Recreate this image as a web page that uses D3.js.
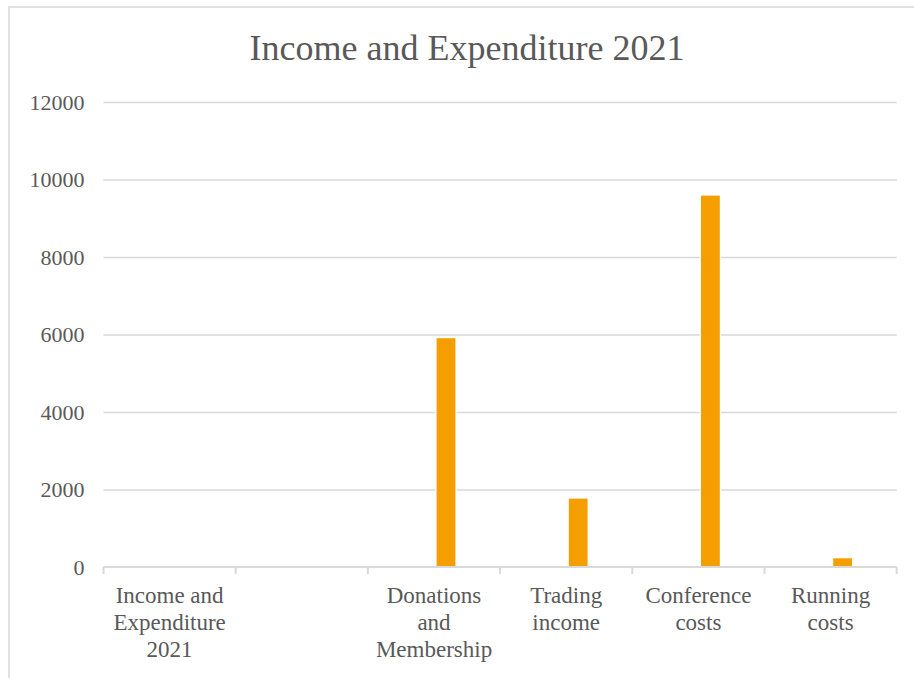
<!DOCTYPE html>
<html>
<head>
<meta charset="utf-8">
<script src="https://cdn.jsdelivr.net/npm/d3@7"></script>
<style>
  html, body { margin: 0; padding: 0; background: #fff; }
  svg { display: block; }
  text { font-family: "Liberation Serif", "Times New Roman", serif; fill: #595959; }
</style>
</head>
<body>
<svg id="chart" width="914" height="678"></svg>
<script>
const title = "Income and Expenditure 2021";
const categories = ["Income and Expenditure 2021", "", "Donations and Membership", "Trading income", "Conference costs", "Running costs"];
const seriesNames = ["Series1", "Series2"];
const series1 = [null, null, null, null, null, null];
const series2 = [null, null, 5920, 1780, 9600, 240];
const yTicks = [0, 2000, 4000, 6000, 8000, 10000, 12000];

const svg = d3.select("#chart");
const W = 914, H = 678;
const plot = { left: 103.5, right: 896.7, top: 102, bottom: 567 };

// chart border
svg.append("rect").attr("x", 9).attr("y", 7).attr("width", 1000).attr("height", 1000)
  .attr("fill", "#fff").attr("stroke", "#d9d9d9").attr("stroke-width", 1.5);

svg.append("text").attr("x", (248 + 686) / 2).attr("y", 60)
  .attr("text-anchor", "middle").style("font-size", "36px").text(title);

const x = d3.scaleBand().domain(categories.map((c, i) => i)).range([plot.left, plot.right]).padding(0);
const xs = d3.scaleBand().domain(seriesNames)
  .range([x.bandwidth() / 2 - 22, x.bandwidth() / 2 + 22]).paddingInner(4 / 24).paddingOuter(0);
const y = d3.scaleLinear().domain([0, 12000]).range([plot.bottom, plot.top]);

// gridlines + y labels
const yAxis = d3.axisLeft(y).tickValues(yTicks).tickSize(-(plot.right - plot.left)).tickPadding(19)
  .tickFormat(d3.format("d"));
const gy = svg.append("g").attr("transform", `translate(${plot.left},0)`).call(yAxis);
gy.select(".domain").remove();
gy.selectAll(".tick line").attr("stroke", "#d9d9d9").attr("stroke-width", 1.5)
  .filter(d => d === 0).remove();
gy.selectAll(".tick text").style("font-size", "22px").attr("fill", "#595959");

// bars
const data = [];
categories.forEach((c, i) => {
  [series1, series2].forEach((s, k) => {
    if (s[i] != null) data.push({ i, s: seriesNames[k], v: s[i] });
  });
});
svg.append("g").selectAll("rect").data(data).join("rect")
  .attr("x", d => x(d.i) + xs(d.s))
  .attr("width", xs.bandwidth())
  .attr("y", d => y(d.v))
  .attr("height", d => y(0) - y(d.v))
  .attr("fill", "#F59E00")
  .attr("stroke", "#fff").attr("stroke-width", 1.2);

// x axis
const xAxis = d3.axisBottom(x).tickSize(0).tickFormat(i => categories[i]);
const gx = svg.append("g").attr("transform", `translate(0,${plot.bottom})`).call(xAxis);
gx.select(".domain").attr("stroke", "#d9d9d9").attr("stroke-width", 2).attr("d", `M${plot.left},0H${plot.right}`);
// category boundary tick marks
const bounds = categories.map((c, i) => x(i)).concat([x(categories.length - 1) + x.bandwidth()]);
gx.selectAll(".bound").data(bounds).join("line").attr("class", "bound")
  .attr("x1", d => d).attr("x2", d => d).attr("y1", 0).attr("y2", 7)
  .attr("stroke", "#d9d9d9").attr("stroke-width", 2);

gx.selectAll(".tick text").each(function (i) {
  const t = d3.select(this);
  const words = categories[i].split(/\s+/).filter(w => w);
  t.text(null).style("font-size", "23px").attr("fill", "#595959").attr("y", 0).attr("dy", null);
  const maxW = 124;
  let lines = [], cur = [];
  const probe = t.append("tspan");
  words.forEach(w => {
    const test = cur.concat([w]).join(" ");
    probe.text(test);
    if (probe.node().getComputedTextLength() > maxW && cur.length) {
      lines.push(cur.join(" "));
      cur = [w];
    } else cur.push(w);
  });
  if (cur.length) lines.push(cur.join(" "));
  probe.remove();
  lines.forEach((l, k) => {
    t.append("tspan").attr("x", 0).attr("y", 36 + k * 27).text(l);
  });
});
</script>
</body>
</html>
